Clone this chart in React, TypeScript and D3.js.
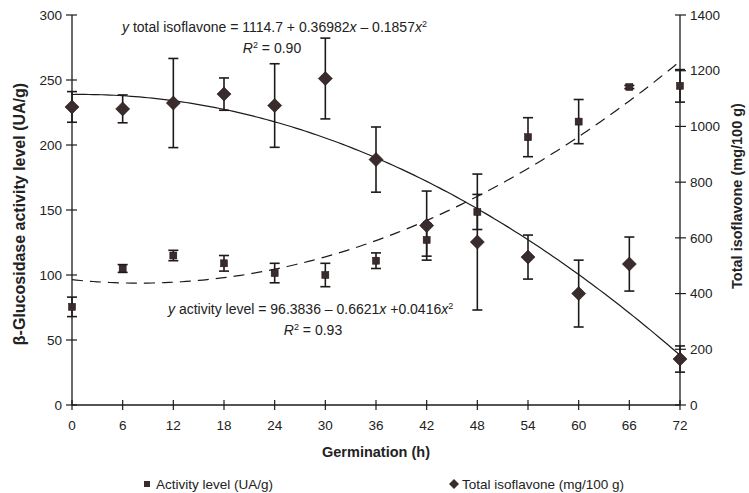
import React from "react";
import * as d3 from "d3";

const hours = [0, 6, 12, 18, 24, 30, 36, 42, 48, 54, 60, 66, 72];
const xTickLabels = ["0", "6", "12", "18", "24", "30", "36", "42", "48", "54", "60", "66", "72"];
const activity = [75.5, 105, 115, 109, 101.5, 100, 111, 127, 148.5, 206, 218, 244.6, 245.5];
const activityErr = [7.5, 3, 4, 6, 7.5, 9, 6, 12.5, 13.5, 15, 17, 1.2, 12.5];
const isoflavone = [1070, 1063, 1084, 1116, 1075, 1172, 881, 644, 585, 531, 400, 506, 165];
const isoflavoneErr = [55, 50, 160, 58, 150, 145, 117, 124, 244, 79, 120, 97, 47];
const leftTicks = [0, 50, 100, 150, 200, 250, 300];
const rightTicks = [0, 200, 400, 600, 800, 1000, 1200, 1400];
// Printed regression coefficients: c0 + c1 x + c2 x^2
const isoFitCoef = [1114.7, 0.36982, -0.1857];
const actFitCoef = [96.3836, -0.6621, 0.0416];

const W = 749;
const H = 493;
const FONT = "'Liberation Sans', Arial, sans-serif";

export default function App() {
  const x = d3.scaleLinear().domain([0, 72]).range([72, 680]);
  const yL = d3.scaleLinear().domain([0, 300]).range([405, 15]);
  const yR = d3.scaleLinear().domain([0, 1400]).range([405, 15]);

  const fitX = d3.range(0, 72.01, 0.5);
  const poly = (c: number[], v: number) => c[0] + c[1] * v + c[2] * v * v;
  const isoLine = d3
    .line<number>()
    .x((d) => x(d))
    .y((d) => yR(poly(isoFitCoef, d)))(fitX) as string;
  const actLine = d3
    .line<number>()
    .x((d) => x(d))
    .y((d) => yL(poly(actFitCoef, d)))(fitX) as string;

  const ink = "#1e1a1a";
  const mark = "#3a2c2c";
  const cap = 5;
  const tickFs = 13.5;
  const eqFs = 14;

  const diamond = (cx: number, cy: number, r: number) =>
    `M${cx},${cy - r}L${cx + r},${cy}L${cx},${cy + r}L${cx - r},${cy}Z`;

  return (
    <svg
      width={W}
      height={H}
      style={{ position: "absolute", left: 0, top: 0, background: "#fff" }}
      fontFamily={FONT}
    >
      <rect width={W} height={H} fill="#fff" />
      {/* fit curves */}
      <path d={isoLine} fill="none" stroke={ink} strokeWidth={1.2} />
      <path d={actLine} fill="none" stroke={ink} strokeWidth={1.2} strokeDasharray="11,7" />

      {/* axes */}
      <line x1={72} x2={72} y1={15} y2={405} stroke={ink} strokeWidth={1.3} />
      <line x1={680} x2={680} y1={15} y2={405} stroke={ink} strokeWidth={1.3} />
      <line x1={72} x2={680} y1={405} y2={405} stroke={ink} strokeWidth={1.3} />
      {leftTicks.map((t) => (
        <g key={"l" + t}>
          <line x1={66} x2={77} y1={yL(t)} y2={yL(t)} stroke={ink} strokeWidth={1.2} />
          <text x={62} y={yL(t)} dy="0.35em" textAnchor="end" fontSize={tickFs} fill="#222">
            {t}
          </text>
        </g>
      ))}
      {rightTicks.map((t) => (
        <g key={"r" + t}>
          <line x1={675} x2={686} y1={yR(t)} y2={yR(t)} stroke={ink} strokeWidth={1.2} />
          <text x={690} y={yR(t)} dy="0.35em" textAnchor="start" fontSize={tickFs} fill="#222">
            {t}
          </text>
        </g>
      ))}
      {hours.map((h, i) => (
        <g key={"x" + h}>
          <line x1={x(h)} x2={x(h)} y1={400} y2={410} stroke={ink} strokeWidth={1.2} />
          <text x={x(h)} y={425} dy="0.35em" textAnchor="middle" fontSize={tickFs} fill="#222">
            {xTickLabels[i]}
          </text>
        </g>
      ))}

      {/* axis titles */}
      <text x={376} y={452} dy="0.35em" textAnchor="middle" fontSize={14.5} fontWeight="bold" fill="#222">
        Germination (h)
      </text>
      <text
        transform={`translate(19,214) rotate(-90)`}
        textAnchor="middle"
        dy="0.35em"
        fontSize={16}
        fontWeight="bold"
        fill="#222"
      >
        β-Glucosidase activity level (UA/g)
      </text>
      <text
        transform={`translate(737,196) rotate(-90)`}
        textAnchor="middle"
        dy="0.35em"
        fontSize={14.5}
        fontWeight="bold"
        fill="#222"
      >
        Total isoflavone (mg/100 g)
      </text>

      {/* isoflavone error bars and diamonds */}
      {hours.map((h, i) => {
        const cx = x(h);
        const t = yR(isoflavone[i] + isoflavoneErr[i]);
        const b = yR(isoflavone[i] - isoflavoneErr[i]);
        return (
          <g key={"ie" + h} stroke={ink} strokeWidth={1.6}>
            <line x1={cx} x2={cx} y1={t} y2={b} />
            <line x1={cx - cap} x2={cx + cap} y1={t} y2={t} />
            <line x1={cx - cap} x2={cx + cap} y1={b} y2={b} />
          </g>
        );
      })}
      {/* activity error bars and squares */}
      {hours.map((h, i) => {
        const cx = x(h);
        const t = yL(activity[i] + activityErr[i]);
        const b = yL(activity[i] - activityErr[i]);
        return (
          <g key={"ae" + h} stroke={ink} strokeWidth={1.6}>
            <line x1={cx} x2={cx} y1={t} y2={b} />
            <line x1={cx - cap} x2={cx + cap} y1={t} y2={t} />
            <line x1={cx - cap} x2={cx + cap} y1={b} y2={b} />
          </g>
        );
      })}
      {hours.map((h, i) => (
        <path key={"d" + h} d={diamond(x(h), yR(isoflavone[i]), 7)} fill={mark} stroke="#1a1010" strokeWidth={0.6} />
      ))}
      {hours.map((h, i) => (
        <rect
          key={"s" + h}
          x={x(h) - 3.5}
          y={yL(activity[i]) - 3.5}
          width={7}
          height={7}
          fill={mark}
          stroke="#1a1010"
          strokeWidth={0.5}
        />
      ))}

      {/* equations */}
      <text x={122} y={27} dy="0.35em" fontSize={eqFs} fill="#222">
        <tspan fontStyle="italic">y</tspan> total isoflavone = 1114.7 + 0.36982
        <tspan fontStyle="italic">x</tspan> – 0.1857<tspan fontStyle="italic">x</tspan>
        <tspan fontSize={9} dy="-5">2</tspan>
      </text>
      <text x={272} y={48} dy="0.35em" fontSize={eqFs} fill="#222" textAnchor="middle">
        <tspan fontStyle="italic">R</tspan>
        <tspan fontSize={9} dy="-5">2</tspan>
        <tspan dy="5"> = 0.90</tspan>
      </text>
      <text x={168} y={309} dy="0.35em" fontSize={eqFs} fill="#222">
        <tspan fontStyle="italic">y</tspan> activity level =  96.3836 – 0.6621
        <tspan fontStyle="italic">x</tspan> +0.0416<tspan fontStyle="italic">x</tspan>
        <tspan fontSize={9} dy="-5">2</tspan>
      </text>
      <text x={313} y={330} dy="0.35em" fontSize={eqFs} fill="#222" textAnchor="middle">
        <tspan fontStyle="italic">R</tspan>
        <tspan fontSize={9} dy="-5">2</tspan>
        <tspan dy="5"> = 0.93</tspan>
      </text>

      {/* legend */}
      <rect x={144} y={481} width={6} height={6} fill={mark} />
      <text x={156} y={484} dy="0.35em" fontSize={13.5} fill="#222">
        Activity level (UA/g)
      </text>
      <path d={diamond(454, 484, 5)} fill={mark} />
      <text x={462} y={484} dy="0.35em" fontSize={13.5} fill="#222">
        Total isoflavone (mg/100 g)
      </text>
    </svg>
  );
}
